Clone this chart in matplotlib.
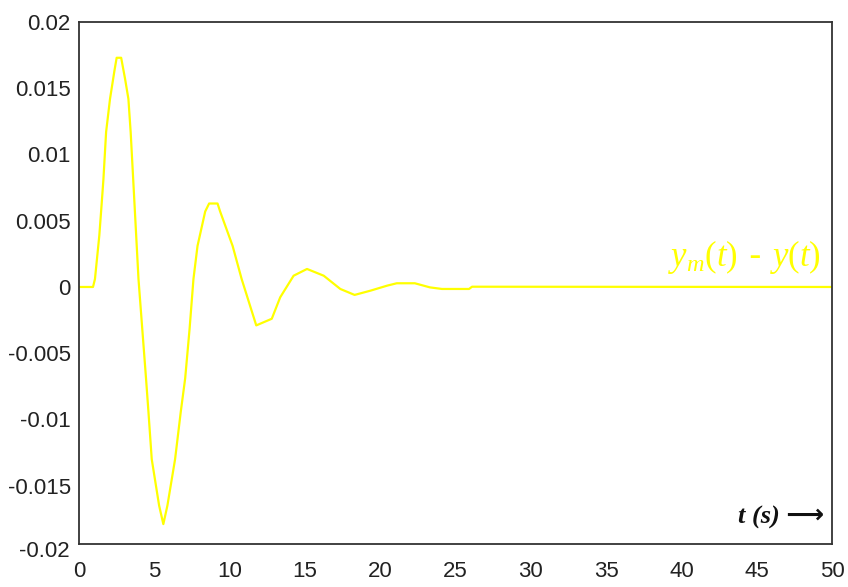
import matplotlib
matplotlib.use('Agg')
import matplotlib.pyplot as plt

# error signal y_m(t) - y(t)
t = [0, 0.93, 1.06, 1.35, 1.5, 1.62, 1.8, 2.06, 2.35, 2.5, 2.8, 3.06, 3.28, 3.43,
     3.6, 3.95, 4.45, 4.61, 4.83, 5.32, 5.6, 5.87, 6.38, 6.76, 7.05, 7.34, 7.6,
     7.87, 8.38, 8.64, 9.2, 9.37, 10.2, 10.8, 11.77, 12.8, 13.36, 14.25, 15.14,
     16.25, 17.35, 18.3, 19.35, 20.46, 21.1, 22.3, 23.3, 24.1, 25.9, 26.1, 50]
err = [0, 0, 0.0006, 0.0039, 0.0062, 0.0081, 0.0117, 0.0142, 0.0163, 0.0173,
       0.0173, 0.0157, 0.0142, 0.0117, 0.0081, 0.0006, -0.0069, -0.0094, -0.013,
       -0.0165, -0.0179, -0.0165, -0.013, -0.0094, -0.0069, -0.0032, 0.0006,
       0.0031, 0.0057, 0.0063, 0.0063, 0.0057, 0.0031, 0.0006, -0.0029, -0.0024,
       -0.00078, 0.00085, 0.00136, 0.00085, -0.00015, -0.0006, -0.00028, 0.0001,
       0.00028, 0.00028, -0.00003, -0.00015, -0.00015, 0.00002, 0]

xticks = [0, 5, 10, 15, 20, 25, 30, 35, 40, 45, 50]
yticks = [0.02, 0.015, 0.01, 0.005, 0, -0.005, -0.01, -0.015]
ylabels = ['0.02', '0.015', '0.01', '0.005', '0', '-0.005', '-0.01', '-0.015']

tick_font = ['Liberation Sans']
plt.rcParams['mathtext.fontset'] = 'custom'
plt.rcParams['mathtext.rm'] = 'Liberation Serif'
plt.rcParams['mathtext.it'] = 'Liberation Serif:italic'

fig = plt.figure(figsize=(8.48, 5.87), dpi=100)
ax = fig.add_axes([79 / 848, 1 - 544 / 587, (832 - 79) / 848, (544 - 22) / 587])

ax.plot(t, err, color='#ffff00', lw=1.6)
ax.set_xlim(0, 50)
ax.set_ylim(-0.0194, 0.02)

ax.set_xticks(xticks)
ax.set_xticklabels([str(v) for v in xticks], family=tick_font, fontsize=16, color='#222222')
ax.set_yticks(yticks)
ax.set_yticklabels(ylabels, family=tick_font, fontsize=16, color='#222222')
ax.tick_params(length=0, pad=6)
ax.tick_params(axis='x', pad=12)
ax.text(-0.012, -0.02, '-0.02', transform=ax.get_yaxis_transform(), ha='right', va='center',
        family=tick_font, fontsize=16, color='#222222', clip_on=False)

for s in ax.spines.values():
    s.set_color('#333333')
    s.set_linewidth(1.3)

ax.text(0.985, 0.0008, r'$y_{m}(t)$ - $y(t)$', transform=ax.get_yaxis_transform(),
        ha='right', va='bottom', fontsize=25, color='#ffff00')
ax.text(0.99, 0.05, 't (s) \u27f6', transform=ax.transAxes, ha='right', va='center',
        family=['Liberation Serif', 'DejaVu Sans'], fontsize=19, fontweight='bold',
        fontstyle='italic', color='#111111')

fig.savefig('out.png', dpi=100)
